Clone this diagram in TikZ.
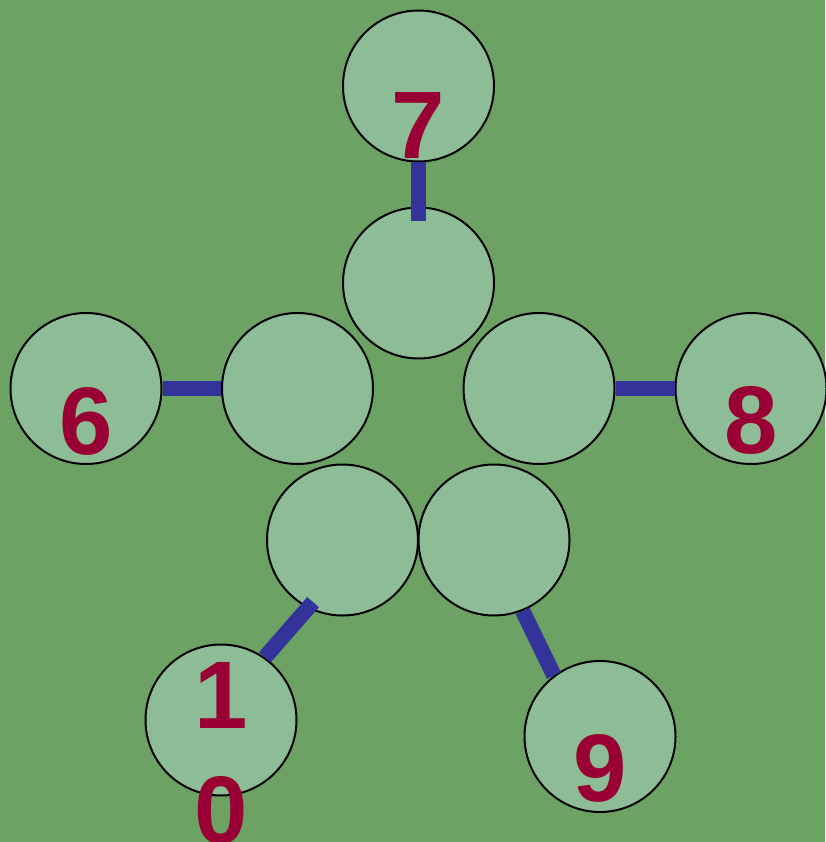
\documentclass[tikz,border=0pt]{standalone}
\usepackage{fontspec}
\setmainfont{Liberation Sans}
\definecolor{bggreen}{RGB}{108,163,101}
\definecolor{ballfill}{RGB}{141,189,150}
\definecolor{numred}{RGB}{153,0,51}
\definecolor{barblue}{RGB}{51,51,153}
\tikzset{
  ball/.style={circle, draw=black, line width=2pt, fill=ballfill, minimum size=151pt, inner sep=0pt},
  bar/.style={draw=barblue, line width=15.5pt},
  num/.style={text=numred, font=\bfseries\fontsize{96}{115}\selectfont, inner sep=0pt},
}
\begin{document}
\begin{tikzpicture}[x=1pt,y=-1pt]
\fill[bggreen] (0,0) rectangle (825,842);
\useasboundingbox (0,0) rectangle (825,842);
% circles
\node[ball] (c7) at (418.5,86) {};
\node[ball] (cT) at (418.5,283) {};
\node[ball] (cL) at (297.5,388.5) {};
\node[ball] (cR) at (539,388.5) {};
\node[ball] (cBL) at (342.5,540) {};
\node[ball] (cBR) at (494,540) {};
\node[ball] (c6) at (86,388.5) {};
\node[ball] (c8) at (751,388.5) {};
\node[ball] (c10) at (221,720) {};
\node[ball] (c9) at (600,736.5) {};
% bars
\draw[bar, shorten >=-15pt] (c7.south) -- (cT.north);
\draw[bar] (c6.east) -- (cL.west);
\draw[bar] (cR.east) -- (c8.west);
\draw[bar, shorten >=-8pt] (c10.55) -- (cBL.243);
\draw[bar] (cBR.292) -- (c9.127);
% labels
\node[num, anchor=base] (n7) at (418.5,159) {7};
\node[num, anchor=base] (n6) at (86.5,454) {6};
\node[num, anchor=base] (n8) at (751,453) {8};
\node[num, anchor=base] (n9) at (600,801) {9};
\node[num, anchor=base, align=center] (n10) at (221,843) {1\\0};
\end{tikzpicture}
\end{document}
